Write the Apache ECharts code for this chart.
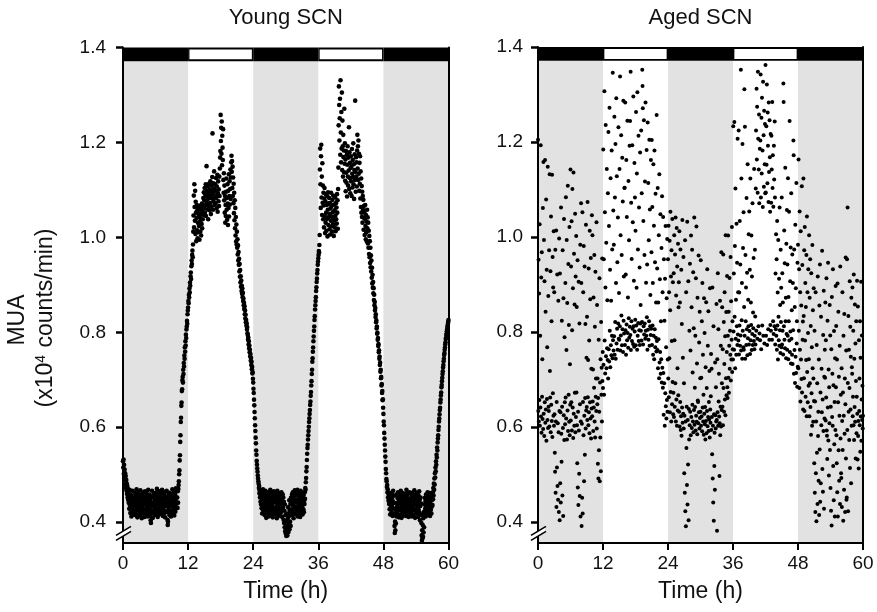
<!DOCTYPE html>
<html><head><meta charset="utf-8">
<script src="https://cdn.jsdelivr.net/npm/echarts@6/dist/echarts.min.js"></script>
<style>html,body{margin:0;padding:0;background:#fff}#c{width:877px;height:612px}</style>
</head><body><div id="c"></div>
<script>
// sampling interval of the recordings (hours)
const sampleStepH = 0.05;
const panelTitles = ['Young SCN', 'Aged SCN'];
const xTicks = [0, 12, 24, 36, 48, 60];
const yTicks = [0.4, 0.6, 0.8, 1.0, 1.2, 1.4];
const darkPeriods = [[0, 12], [24, 36], [48, 60]];
const lightPeriods = [[12, 24], [36, 48]];

// MUA (x10^4 counts/min), one value per 0.05 h (one row = one hour), t = 0 ... 60 h
const youngMUA = [
.528,.515,.532,.502,.521,.495,.511,.488,.503,.479,.497,.472,.489,.466,.481,.459,.476,.452,.470,.447,
.463,.441,.452,.428,.468,.436,.447,.419,.458,.431,.444,.412,.455,.438,.426,.466,.433,.449,.417,.442,
.451,.424,.438,.462,.415,.447,.433,.457,.421,.444,.469,.429,.452,.410,.439,.461,.426,.448,.435,.418,
.456,.431,.445,.414,.467,.437,.423,.452,.441,.408,.459,.429,.447,.434,.418,.463,.440,.426,.454,.411,
.443,.465,.427,.450,.416,.438,.461,.422,.446,.432,.457,.412,.440,.468,.425,.449,.419,.436,.458,.430,
.445,.413,.404,.398,.421,.452,.436,.466,.424,.441,.409,.455,.433,.418,.460,.439,.427,.448,.415,.457,
.431,.462,.420,.444,.437,.470,.426,.451,.411,.442,.458,.429,.447,.416,.465,.435,.422,.453,.440,.428,
.459,.417,.445,.432,.468,.424,.450,.413,.439,.461,.427,.448,.419,.456,.434,.410,.464,.441,.423,.452,
.438,.466,.421,.449,.405,.394,.401,.431,.458,.426,.444,.415,.462,.437,.420,.453,.442,.412,.457,.433,
.447,.424,.469,.436,.418,.455,.441,.428,.463,.414,.450,.433,.458,.422,.445,.471,.430,.452,.439,.467,
.452,.430,.465,.441,.470,.478,.486,.501,.509,.530,.541,.569,.583,.611,.620,.645,.652,.676,.680,.699,
.706,.694,.721,.712,.735,.728,.751,.744,.768,.759,.781,.772,.795,.788,.806,.812,.824,.818,.838,.846,
.852,.866,.861,.879,.873,.892,.884,.905,.898,.918,.926,.912,.939,.951,.944,.963,.972,.958,.985,1.012,
1.046,1.088,1.021,1.112,1.064,1.035,1.098,1.007,1.075,1.052,.992,1.041,1.068,1.015,1.057,.998,1.031,1.062,1.011,1.049,
1.024,1.058,.995,1.043,1.067,1.012,1.036,1.061,1.004,1.049,1.028,1.071,1.019,1.055,1.038,1.066,1.083,1.047,1.095,1.062,
1.078,1.104,1.052,1.091,1.068,1.112,1.045,1.086,1.150,1.073,1.098,1.059,1.107,1.081,1.038,1.094,1.066,1.113,1.088,1.057,
1.101,1.072,1.118,1.085,1.049,1.096,1.064,1.109,1.082,1.127,1.219,1.091,1.058,1.114,1.076,1.103,1.139,1.068,1.097,1.084,
1.112,1.071,1.098,1.125,1.083,1.061,1.107,1.089,1.132,1.054,1.093,1.118,1.076,1.101,1.066,1.128,1.087,1.145,1.168,1.182,
1.258,1.203,1.231,1.176,1.244,1.152,1.214,1.189,1.163,1.228,1.121,1.094,1.135,1.078,1.109,1.052,1.087,1.031,1.068,1.045,
1.096,1.124,1.058,1.083,1.037,1.112,1.071,1.026,1.098,1.062,1.133,1.044,1.087,1.118,1.069,1.102,1.143,1.081,1.126,1.158,
1.172,1.138,1.161,1.104,1.149,1.087,1.126,1.072,1.113,1.051,1.094,1.036,1.078,1.019,1.062,1.004,1.043,.991,1.027,.985,
1.012,.978,.996,.964,.983,.951,.969,.942,.955,.928,.944,.917,.931,.905,.918,.896,.909,.887,.898,.881,
.892,.874,.883,.866,.871,.857,.862,.849,.855,.838,.846,.829,.837,.821,.826,.814,.819,.806,.811,.798,
.794,.785,.789,.774,.781,.766,.772,.758,.763,.749,.754,.740,.746,.731,.738,.722,.727,.713,.716,.702,
.694,.681,.672,.658,.646,.632,.619,.604,.592,.578,.566,.551,.542,.529,.521,.513,.506,.498,.492,.486,
.481,.472,.476,.461,.467,.452,.459,.443,.456,.437,.464,.429,.451,.418,.446,.433,.469,.424,.455,.440,
.428,.461,.415,.449,.437,.466,.422,.453,.409,.444,.431,.458,.419,.440,.463,.426,.450,.412,.447,.435,
.457,.420,.443,.468,.429,.452,.414,.439,.461,.425,.448,.433,.410,.456,.441,.419,.465,.430,.445,.423,
.450,.427,.462,.416,.441,.455,.432,.408,.447,.466,.421,.438,.459,.413,.444,.428,.453,.436,.418,.460,
.434,.457,.420,.445,.463,.426,.449,.411,.440,.458,.431,.452,.405,.443,.398,.424,.389,.437,.381,.415,
.376,.402,.371,.393,.383,.418,.372,.407,.388,.431,.379,.412,.397,.446,.385,.425,.401,.438,.392,.451,
.419,.442,.427,.458,.414,.436,.463,.421,.449,.408,.440,.455,.429,.467,.417,.446,.432,.459,.423,.444,
.456,.425,.441,.468,.412,.448,.434,.460,.419,.443,.429,.455,.438,.411,.452,.466,.427,.445,.420,.458,
.433,.451,.416,.462,.440,.427,.457,.421,.445,.438,.463,.449,.472,.468,.484,.493,.507,.516,.531,.544,
.556,.563,.574,.583,.592,.601,.611,.619,.628,.636,.647,.654,.666,.674,.688,.697,.712,.721,.738,.745,
.759,.768,.781,.791,.803,.812,.826,.834,.848,.857,.866,.874,.887,.895,.906,.913,.924,.931,.942,.949,
.956,.963,.971,.968,.984,1.005,1.143,1.187,1.112,1.062,1.171,1.195,1.084,1.128,1.047,1.156,1.073,1.109,1.038,1.094,
1.067,1.021,1.082,1.104,1.045,1.009,1.076,1.031,1.091,1.052,1.014,1.068,1.039,1.087,1.002,1.058,1.095,1.026,1.071,1.043,
1.083,1.017,1.049,1.072,1.006,1.061,1.035,1.094,1.023,1.066,1.044,1.012,1.079,1.053,1.028,1.088,1.041,1.003,1.069,1.036,
1.057,1.021,1.084,1.046,1.013,1.072,1.038,1.063,1.029,1.091,1.052,1.078,1.018,1.102,1.147,1.236,1.318,1.279,1.204,1.251,
1.292,1.174,1.331,1.221,1.158,1.264,1.187,1.305,1.142,1.246,1.192,1.128,1.216,1.169,1.183,1.137,1.271,1.155,1.198,1.119,
1.164,1.097,1.182,1.136,1.115,1.174,1.086,1.153,1.192,1.128,1.109,1.168,1.141,1.232,1.102,1.179,1.125,1.157,1.093,1.146,
1.171,1.118,1.149,1.087,1.186,1.134,1.105,1.163,1.127,1.198,1.112,1.154,1.081,1.142,1.175,1.121,1.288,1.138,1.096,1.169,
1.128,1.158,1.107,1.183,1.216,1.145,1.192,1.121,1.204,1.134,1.176,1.098,1.157,1.113,1.171,1.082,1.139,1.064,1.124,1.052,
1.108,1.043,1.096,1.031,1.087,1.058,1.079,1.016,1.066,1.041,1.052,1.005,1.039,1.068,1.024,.996,1.047,1.011,1.033,.991,
1.058,1.019,1.042,.987,1.031,.978,1.014,.965,1.003,.958,.992,.946,.978,.937,.962,.928,.951,.915,.936,.903,
.921,.894,.906,.882,.893,.868,.879,.857,.864,.846,.851,.832,.838,.821,.825,.808,.812,.797,.799,.784,
.788,.771,.775,.758,.762,.744,.749,.731,.736,.717,.721,.703,.706,.688,.691,.672,.676,.657,.659,.641,
.628,.612,.604,.588,.576,.563,.551,.538,.527,.512,.503,.491,.486,.474,.478,.463,.469,.452,.461,.445,
.455,.438,.462,.427,.449,.416,.443,.458,.431,.447,.421,.460,.436,.452,.413,.444,.466,.429,.441,.456,
.418,.392,.377,.401,.383,.426,.397,.440,.412,.458,.432,.419,.451,.437,.463,.425,.448,.410,.442,.457,
.428,.453,.416,.444,.466,.431,.439,.409,.457,.423,.448,.435,.461,.414,.442,.429,.455,.420,.446,.437,
.459,.426,.441,.413,.452,.468,.432,.445,.419,.458,.437,.424,.450,.411,.443,.463,.428,.447,.434,.416,
.449,.430,.462,.421,.440,.456,.412,.445,.433,.459,.425,.448,.415,.438,.467,.427,.452,.409,.441,.455,
.423,.446,.436,.461,.418,.450,.431,.443,.411,.457,.426,.440,.465,.420,.447,.404,.434,.452,.415,.439,
.398,.372,.361,.383,.366,.394,.369,.408,.378,.421,.389,.437,.415,.451,.428,.444,.412,.458,.433,.420,
.452,.425,.441,.463,.416,.448,.435,.457,.420,.444,.431,.461,.413,.449,.438,.426,.455,.418,.446,.433,
.459,.436,.463,.448,.472,.456,.481,.468,.492,.479,.503,.494,.515,.507,.528,.521,.542,.536,.557,.551,
.568,.576,.583,.594,.601,.612,.618,.627,.636,.641,.652,.658,.667,.673,.684,.689,.697,.704,.712,.718,
.726,.731,.739,.744,.752,.756,.763,.768,.774,.779,.786,.788,.794,.797,.802,.806,.811,.814,.818,.822,
.826
];

const agedMUA = [
1.205,.634,.952,.612,.881,.657,1.027,.603,.792,.641,1.193,.622,.915,.588,.968,.664,.743,.617,1.061,.596,
1.158,.628,.994,.581,.907,.652,1.162,.609,.843,.637,1.079,.571,.931,.659,.768,.615,1.148,.598,.876,.643,
.634,.972,.601,1.132,.718,.662,.928,.589,1.043,.647,.823,.613,1.131,.579,.958,.671,.894,.624,1.012,.603,
.884,.627,.546,.506,.973,.462,.612,1.014,.432,.653,.515,.921,.476,.608,.447,.866,.589,.421,.997,.634,
.404,.923,.482,.631,.441,1.062,.586,.527,.824,.643,.456,.972,.598,.413,.871,.625,1.038,.573,.789,.652,
.606,.903,.662,1.084,.618,.762,.994,.574,.861,.635,1.108,.592,.943,.668,.815,.611,1.021,.583,.732,.647,
1.142,.614,.938,.652,1.033,.593,.804,1.101,.641,.892,.577,1.136,.628,.965,.603,.858,.672,1.049,.589,.917,
.621,1.002,.673,.853,.604,.524,.951,.473,.632,.436,.906,.593,.502,.818,.455,.648,.984,.412,.612,1.071,
.903,.392,.607,.451,1.052,.418,.653,.884,.583,.981,.486,.624,.938,.542,.661,.817,.597,1.026,.635,.746,
.642,.832,.615,1.074,.663,.741,.604,.934,.631,.782,.587,1.013,.652,.869,.618,.956,.576,.723,.639,1.046,
.623,1.004,.654,.721,.592,.873,.641,.683,.962,.612,.811,.578,.927,.664,.702,.634,1.031,.597,.857,.648,
.702,.523,.661,.492,.784,.551,.632,.913,.486,.694,.578,.743,.507,.821,.668,.725,.612,.955,.697,.758,
.682,1.184,.731,.953,.668,1.307,.782,1.052,.713,.894,1.236,.749,.988,.724,1.143,.766,.867,.741,1.092,.702,
1.221,.764,1.023,.738,1.272,.803,.931,.726,1.124,.772,.866,.751,1.182,.792,.974,.745,1.346,.783,1.056,.761,
.984,.791,1.253,.752,1.083,.821,1.196,.744,.903,1.292,.776,1.128,.807,.947,.763,1.041,.818,1.231,.786,.882,
.784,1.143,.812,1.338,.761,1.004,.793,1.214,.835,.962,.772,1.167,.806,1.075,.758,1.287,.824,.917,.797,1.103,
1.104,.773,1.283,.804,.921,.752,1.162,.816,1.042,.783,1.245,.798,.873,.767,1.118,.829,.993,.788,1.192,.811,
1.244,.794,1.348,.762,1.072,.823,.954,.781,1.193,.807,1.031,.775,1.296,.812,.908,.769,1.156,.801,1.083,.826,
1.013,.772,1.263,.814,.893,1.134,.763,1.305,.792,.974,.819,1.213,.781,1.062,.804,.936,.773,1.178,.818,.857,
.803,1.224,.782,1.092,.821,1.352,1.318,1.271,.774,1.034,.812,1.246,.795,.962,.818,1.117,.786,1.283,.803,.904,
.792,1.183,.831,.942,.763,1.241,.805,1.114,.784,.993,.823,1.205,.771,1.058,.812,.878,.794,1.162,.807,.968,
1.204,.773,1.063,.814,.903,.752,1.153,.792,1.024,.743,1.182,.806,.947,.768,1.091,.788,.862,.759,1.257,.781,
.934,.762,1.103,.724,.862,.785,1.004,.703,1.132,.736,.911,.758,1.048,.712,.823,.743,.977,.694,1.086,.725,
.884,.683,1.042,.714,.626,.953,.692,.824,.603,.912,.671,1.023,.644,.768,.618,.871,.657,.996,.632,.742,
.953,.702,1.024,.663,.884,.745,.992,.631,.846,1.053,.674,.917,.612,.972,.781,.648,1.038,.695,.905,.627,
.672,.924,.621,1.004,.783,.643,.963,.692,1.041,.612,.877,.658,1.019,.603,.938,.724,.635,.986,.667,.852,
.905,.632,1.012,.601,.862,.653,.974,.594,.623,.931,.582,.817,.641,1.036,.609,.746,.628,.958,.597,.692,
.503,.624,.462,.993,.423,.612,.391,.884,.556,.643,.478,1.032,.437,.615,.521,.907,.404,.638,.574,.803,
.604,.944,.632,.761,.583,1.003,.621,.852,.598,.973,.647,.715,.612,.926,.589,.808,.636,1.041,.605,.683,
.642,.792,.593,.913,.624,1.022,.611,.734,.585,.872,.656,.653,.608,.961,.631,.778,.597,.843,.619,.703,
.632,.951,.603,.704,.622,.823,.591,.903,.641,.752,.612,.668,.584,.871,.628,.798,.606,.642,.574,.726,
.613,.863,.587,.682,.634,.932,.602,.771,.621,.844,.592,.653,.616,.718,.578,.892,.637,.609,.665,.754,
.594,.723,.621,.543,.894,.492,.603,.441,.812,.403,.627,.518,.588,.468,.736,.625,.597,.684,.612,.859,
.615,.382,.743,.631,.924,.603,.806,.654,.712,.622,.497,.608,.866,.583,.643,.771,.601,.968,.636,.692,
.852,.643,.764,.604,.963,.682,.821,.632,.733,.884,.658,.791,.625,1.004,.703,.842,.667,.758,.918,.684,
.661,.792,1.003,.704,.843,.672,.771,.914,.723,.803,.752,.958,.698,.865,.742,.784,1.021,.716,.823,.764,
.742,1.233,.801,.923,.763,1.242,.832,.981,.724,1.102,.786,.868,.752,1.028,.812,.946,.773,1.207,.795,.884,
.782,1.224,.753,.883,.814,1.034,.771,.942,.793,1.352,.761,1.123,.825,.903,.744,1.196,.803,.977,.768,1.052,
.763,.853,1.311,.792,1.232,.744,.962,.823,.894,.773,1.082,.806,.925,.751,1.153,.787,.868,.812,1.006,.774,
1.054,.802,.931,.754,1.123,.783,.862,.815,1.003,.762,.917,.796,1.071,.773,.841,.808,.956,.781,1.143,.764,
.792,.973,.833,.774,1.102,1.224,.803,1.312,1.163,1.274,.786,1.093,1.348,1.207,.812,1.142,1.258,1.071,.797,1.186,
.783,1.203,1.342,1.083,.764,1.251,1.134,1.293,.814,1.182,1.063,1.327,.792,1.214,1.106,1.266,.776,1.153,1.238,1.092,
1.362,1.094,.792,1.233,1.152,1.321,.773,1.113,1.262,1.192,.806,1.074,1.283,1.137,.784,1.246,1.168,1.053,.815,1.217,
.803,1.072,1.213,1.142,.784,1.284,1.103,1.172,.823,1.064,.796,1.192,1.121,.812,1.243,1.083,.774,.923,.806,1.006,
.792,.953,.763,1.034,.814,.883,.742,.994,.832,.783,.912,.771,1.062,.804,.857,.756,.973,.821,.893,.768,
1.083,.774,.924,.803,.862,.753,1.323,1.284,.812,1.014,.784,.945,.766,1.146,.823,.872,.745,.986,.796,1.057,
.763,.942,.792,1.124,.743,.874,.823,1.053,.782,1.244,.758,.907,.801,.978,.734,1.092,.786,.846,.752,.963,
.733,.903,.804,1.203,1.172,.712,.974,.762,.853,.693,1.026,.748,.892,.714,1.114,.776,.823,.685,.946,.727,
.984,.724,1.163,.803,.932,.682,1.054,.763,.884,.654,1.012,.742,.856,.701,1.107,.673,.941,.784,.822,.637,
1.123,.834,.703,.972,.634,1.021,.782,.903,.664,.853,.741,.962,.623,1.043,.716,.884,.652,.798,.932,.687,
.743,1.004,.623,.872,.692,.953,.642,.813,.584,.924,.671,.768,.603,.983,.724,.846,.611,.702,.892,.655,
.524,.803,.462,.654,.421,.884,.503,.612,.402,.773,.546,.692,.438,.917,.581,.632,.487,.742,.415,.856,
.553,.942,.443,.673,.482,.832,.604,.723,.631,.971,.512,.658,.464,.794,.592,.887,.428,.706,.618,.763,
.704,.862,.614,.783,.662,.913,.593,.582,.533,.824,.641,.946,.572,.721,.498,.684,.608,.857,.552,.793,
.472,.643,.424,.764,.393,.874,.621,.712,.603,.932,.518,.688,.446,.802,.564,.653,.412,.745,.594,.897,
.684,.813,.583,.524,.742,.463,.902,.412,.652,.843,.551,.706,.487,.624,.771,.438,.938,.576,.668,.503,
.493,.724,.432,.613,.884,.552,.673,.403,.792,.624,.468,.838,.586,.702,.421,.648,.957,.534,.761,.447,
.452,.953,.594,1.062,.693,.423,.834,.632,.763,.573,.682,.907,.514,.811,.637,.748,.482,.872,.603,.726,
.712,.894,.623,.664,.803,.604,.921,.573,.744,.642,.858,.611,.776,.534,.697,.823,.587,.664,.908,.628,
.532,.854,.581,.613,.513,.783,.634,.702,.604,.823,.548,.746,.622,.906,.571,.658,.793,.615,.687,.597,
.624
];

const panelSeries = [youngMUA, agedMUA];
const panelSymbolSize = [4.6, 4];

const Y_MIN = 0.356, Y_MAX = 1.4, BAR_BOTTOM = 1.371;
const FONT = '"Liberation Sans", Arial, Helvetica, sans-serif';
const grids = [
  {left: 123, top: 47.5, width: 325.5, height: 495.5},
  {left: 538, top: 47, width: 325, height: 496}
];
const labelMargins = [17, 15];

const chart = echarts.init(document.getElementById('c'), null, {renderer: 'canvas'});

const xAxes = [], yAxes = [], series = [];
grids.forEach((g, i) => {
  xAxes.push({
    gridIndex: i, type: 'value', min: xTicks[0], max: xTicks[xTicks.length - 1], interval: 12,
    z: 10,
    axisLine: {show: true, onZero: false, lineStyle: {color: '#000', width: 2}},
    axisTick: {show: true, length: 7, lineStyle: {color: '#000', width: 2}},
    axisLabel: {color: '#111', fontSize: 19, fontFamily: FONT, margin: 11},
    splitLine: {show: false},
    name: 'Time (h)', nameLocation: 'middle', nameGap: 37,
    nameTextStyle: {color: '#111', fontSize: 23, fontFamily: FONT}
  });
  yAxes.push({
    gridIndex: i, type: 'value', min: Y_MIN, max: Y_MAX, z: 10,
    axisLine: {show: true, onZero: false, lineStyle: {color: '#000', width: 2}},
    axisTick: {show: true, length: 7, customValues: yTicks, lineStyle: {color: '#000', width: 2.5}},
    axisLabel: {color: '#111', fontSize: 19, fontFamily: FONT, margin: labelMargins[i],
      customValues: yTicks, formatter: v => v.toFixed(1)},
    splitLine: {show: false}
  });
  yAxes.push({
    gridIndex: i, type: 'value', min: Y_MIN, max: Y_MAX, position: 'right', z: 10,
    axisLine: {show: true, onZero: false, lineStyle: {color: '#000', width: 2}},
    axisTick: {show: false}, axisLabel: {show: false}, splitLine: {show: false}
  });

  const areas = [];
  darkPeriods.forEach(p => {
    areas.push([{xAxis: p[0], yAxis: Y_MIN, itemStyle: {color: '#e2e2e2'}}, {xAxis: p[1], yAxis: BAR_BOTTOM}]);
    areas.push([{xAxis: p[0], yAxis: BAR_BOTTOM, itemStyle: {color: '#000'}}, {xAxis: p[1], yAxis: Y_MAX}]);
  });
  lightPeriods.forEach(p => {
    areas.push([{xAxis: p[0], yAxis: BAR_BOTTOM, itemStyle: {color: '#000'}}, {xAxis: p[1], yAxis: Y_MAX}]);
    areas.push([{xAxis: p[0] + 0.25, yAxis: BAR_BOTTOM + 0.004, itemStyle: {color: '#fff'}}, {xAxis: p[1] - 0.25, yAxis: Y_MAX - 0.004}]);
  });
  series.push({
    type: 'line', xAxisIndex: i, yAxisIndex: i * 2, data: [], z: 1, silent: true,
    markArea: {silent: true, data: areas, itemStyle: {borderWidth: 0}}
  });
  series.push({
    type: 'scatter', xAxisIndex: i, yAxisIndex: i * 2, z: 3, symbolSize: panelSymbolSize[i],
    itemStyle: {color: '#000', opacity: 1},
    large: false, progressive: 0, silent: true,
    data: panelSeries[i].map((v, k) => [k * sampleStepH, v])
  });
});

chart.setOption({
  animation: false,
  backgroundColor: '#fff',
  grid: grids,
  xAxis: xAxes,
  yAxis: yAxes,
  series: series
});

// decorations: titles, y-axis title, axis-break marks
const gfx = [];
grids.forEach((g, i) => {
  gfx.push({type: 'text', x: g.left + g.width / 2, y: 18, z: 20,
    style: {text: panelTitles[i], fill: '#111', font: '22px ' + FONT, textAlign: 'center', textVerticalAlign: 'middle'}});
  const p = chart.convertToPixel({xAxisIndex: i, yAxisIndex: i * 2}, [0, 0.373]);
  const x = p[0], y = p[1];
  gfx.push({type: 'polygon', z: 20, shape: {points: [[x - 6, y + 5], [x + 7, y - 3], [x + 7, y - 8], [x - 6, y]]},
    style: {fill: '#fff', stroke: null}});
  gfx.push({type: 'line', z: 21, shape: {x1: x - 7, y1: y + 5.5, x2: x + 8, y2: y - 3.5}, style: {stroke: '#000', lineWidth: 1.6}});
  gfx.push({type: 'line', z: 21, shape: {x1: x - 7, y1: y + 0.5, x2: x + 8, y2: y - 8.5}, style: {stroke: '#000', lineWidth: 1.6}});
});
gfx.push({type: 'text', x: 18, y: 320, rotation: Math.PI / 2, z: 20,
  style: {text: 'MUA', fill: '#111', font: '23px ' + FONT, textAlign: 'center', textVerticalAlign: 'middle'}});
gfx.push({type: 'text', x: 46, y: 318, rotation: Math.PI / 2, z: 20,
  style: {text: '(x10{sup|4} counts/min)', fill: '#111', font: '23px ' + FONT, textAlign: 'center', textVerticalAlign: 'middle',
    rich: {sup: {fontSize: 14, fontFamily: FONT, verticalAlign: 'top', fill: '#111', padding: [0, 1, 0, 0]}}}});
chart.setOption({graphic: gfx});
</script></body></html>
